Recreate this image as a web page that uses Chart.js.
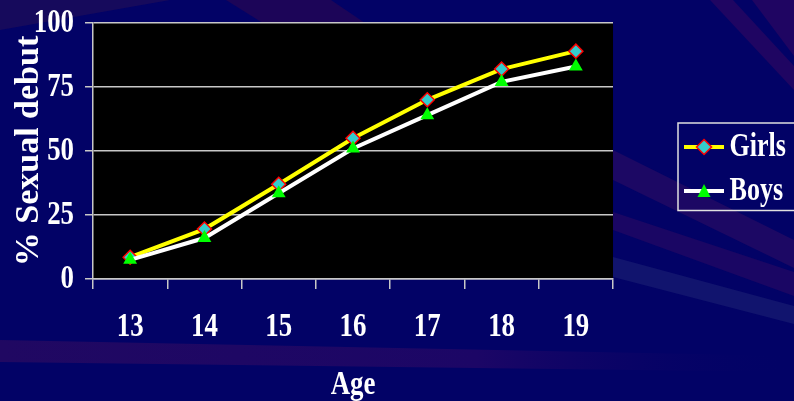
<!DOCTYPE html>
<html>
<head>
<meta charset="utf-8">
<title>Sexual debut by age</title>
<script src="https://cdn.jsdelivr.net/npm/chart.js@4.4.1/dist/chart.umd.min.js"></script>
<style>
  html, body { margin: 0; padding: 0; background: #020266; overflow: hidden; }
  canvas { display: block; }
</style>
</head>
<body>
<canvas id="debut" width="794" height="401"></canvas>
<script>
// Cumulative share (%) who have had sexual debut, by age
const ages = ['13', '14', '15', '16', '17', '18', '19'];
const girls = [8.5, 19.5, 37, 55, 70, 82, 89];
const boys = [7.5, 16, 33.5, 51, 64, 77, 83];
const yTickStep = 25;
const yMin = 0;
const yMax = 100;

const SERIF = '"Liberation Serif", "Times New Roman", serif';
const GRID = '#c8c8c8';
const TEXT_SQUEEZE = 0.79;

// Legend glyphs: a short line segment with the series marker on it
function swatch(lineColor, drawMarker) {
  const c = document.createElement('canvas');
  c.width = 40; c.height = 20;
  const g = c.getContext('2d');
  g.strokeStyle = lineColor; g.lineWidth = 4;
  g.beginPath(); g.moveTo(0, 10); g.lineTo(40, 10); g.stroke();
  drawMarker(g);
  return c;
}
const girlsGlyph = swatch('#ffff00', g => {
  g.beginPath();
  g.moveTo(20, 2.5); g.lineTo(27.5, 10); g.lineTo(20, 17.5); g.lineTo(12.5, 10);
  g.closePath();
  g.fillStyle = '#33cccc'; g.fill();
  g.strokeStyle = '#ff0000'; g.lineWidth = 1.5; g.stroke();
});
const boysGlyph = swatch('#ffffff', g => {
  g.beginPath();
  g.moveTo(20, 3); g.lineTo(26.5, 16); g.lineTo(13.5, 16);
  g.closePath();
  g.fillStyle = '#00ff00'; g.fill();
});

// Slide backdrop: navy with faint diagonal rays, black plot area
const backdrop = {
  id: 'backdrop',
  beforeDraw(chart) {
    const { ctx, chartArea: a, width, height } = chart;
    const poly = (pts, fill) => {
      ctx.beginPath();
      ctx.moveTo(pts[0][0], pts[0][1]);
      for (let i = 1; i < pts.length; i++) ctx.lineTo(pts[i][0], pts[i][1]);
      ctx.closePath();
      ctx.fillStyle = fill;
      ctx.fill();
    };
    ctx.save();
    ctx.fillStyle = '#020266';
    ctx.fillRect(0, 0, width, height);
    poly([[0, 0], [170, 0], [0, 30]], '#160a5c');
    poly([[226, 0], [331, 0], [390, 40], [290, 40]], '#1c0558');
    poly([[710, 0], [733, 0], [794, 66], [794, 90]], '#1f0562');
    poly([[752, 0], [794, 0], [794, 56]], '#1f0562');
    poly([[613, 150], [794, 240], [794, 268], [613, 180]], '#1c0864');
    poly([[613, 212], [794, 272], [794, 296], [613, 230]], '#1a0664');
    poly([[613, 257], [794, 306], [794, 324], [613, 277]], '#11146e');
    const band = ctx.createLinearGradient(0, 0, width, 0);
    band.addColorStop(0, '#200862');
    band.addColorStop(0.6, '#1c0666');
    band.addColorStop(1, 'rgba(2,2,102,0)');
    poly([[0, 340], [794, 356], [794, 372], [0, 362]], band);
    ctx.fillStyle = '#000000';
    ctx.fillRect(a.left, a.top, a.right - a.left, a.bottom - a.top);
    ctx.restore();
  }
};

// Upright text is drawn horizontally condensed, like the slide's narrow serif
const squeezeText = {
  id: 'squeezeText',
  beforeInit(chart) {
    const ctx = chart.ctx;
    const fill = ctx.fillText;
    ctx.fillText = function (text, x, y) {
      const m = this.getTransform();
      if (Math.abs(m.b) > 1e-6) return fill.call(this, text, x, y);
      this.save();
      this.translate(x, y);
      this.scale(TEXT_SQUEEZE, 1);
      fill.call(this, text, 0, 0);
      this.restore();
    };
  }
};

// Legend sits a little away from the plot, lower than centre, framed
const legendPlacement = {
  id: 'legendPlacement',
  afterLayout(chart) {
    const lg = chart.legend;
    const dx = chart.chartArea.right + 71 - lg.left;
    const dy = 18;
    lg.left += dx; lg.right += dx;
    lg.top += dy; lg.bottom += dy;
  },
  afterDraw(chart) {
    const boxes = chart.legend.legendHitBoxes;
    if (!boxes || !boxes.length) return;
    const first = boxes[0], last = boxes[boxes.length - 1];
    const ctx = chart.ctx;
    const left = first.left - 17;
    const top = first.top - 7.5;
    const bottom = last.top + last.height + 3;
    ctx.save();
    ctx.strokeStyle = '#e0e0e0';
    ctx.lineWidth = 1.5;
    ctx.strokeRect(left, top, chart.width - left + 10, bottom - top);
    ctx.restore();
  }
};

const tickFont = { family: SERIF, size: 34, weight: 'bold' };

new Chart(document.getElementById('debut'), {
  type: 'line',
  data: {
    labels: ages,
    datasets: [
      {
        label: 'Girls',
        data: girls,
        order: 1,
        borderColor: '#ffff00',
        borderWidth: 4,
        tension: 0,
        pointStyle: 'rectRot',
        pointRadius: 7,
        pointBackgroundColor: '#33cccc',
        pointBorderColor: '#ff0000',
        pointBorderWidth: 1.5
      },
      {
        label: 'Boys',
        data: boys,
        order: 0,
        borderColor: '#ffffff',
        borderWidth: 4,
        tension: 0,
        pointStyle: 'triangle',
        pointRadius: 8,
        pointBackgroundColor: '#00ff00',
        pointBorderColor: '#00ff00',
        pointBorderWidth: 0
      }
    ]
  },
  options: {
    responsive: false,
    animation: false,
    devicePixelRatio: 1,
    events: [],
    layout: { padding: { top: 23, right: 54, bottom: 0, left: 0 } },
    plugins: {
      tooltip: { enabled: false },
      legend: {
        position: 'right',
        fullSize: false,
        labels: {
          usePointStyle: true,
          pointStyleWidth: 18,
          padding: 11,
          color: '#ffffff',
          font: { family: SERIF, size: 33, weight: 'bold' },
          generateLabels() {
            return [
              { text: 'Girls', pointStyle: girlsGlyph, fontColor: '#ffffff', hidden: false, lineWidth: 0, datasetIndex: 0 },
              { text: 'Boys', pointStyle: boysGlyph, fontColor: '#ffffff', hidden: false, lineWidth: 0, datasetIndex: 1 }
            ];
          }
        }
      }
    },
    scales: {
      x: {
        offset: true,
        grid: { offset: true, drawOnChartArea: false, color: GRID, lineWidth: 1.5, tickLength: 10 },
        border: { display: true, color: GRID, width: 1.5 },
        ticks: { color: '#ffffff', font: tickFont, padding: 18, maxRotation: 0, autoSkip: false },
        title: { display: true, text: 'Age', color: '#ffffff', font: tickFont, padding: { top: 0, bottom: -5 } },
        afterFit(s) { s.height = 122; s.paddingLeft = 0; s.paddingRight = 0; }
      },
      y: {
        min: yMin,
        max: yMax,
        grid: { color: GRID, lineWidth: 1.5, tickLength: 8 },
        border: { display: true, color: GRID, width: 1.5 },
        ticks: { stepSize: yTickStep, color: '#ffffff', font: tickFont, padding: 11 },
        title: { display: true, text: '% Sexual debut', color: '#ffffff', font: tickFont, padding: { top: 9, bottom: 0 } },
        afterFit(s) { s.width = 93; s.paddingTop = 0; s.paddingBottom = 0; }
      }
    }
  },
  plugins: [backdrop, squeezeText, legendPlacement]
});
</script>
</body>
</html>
